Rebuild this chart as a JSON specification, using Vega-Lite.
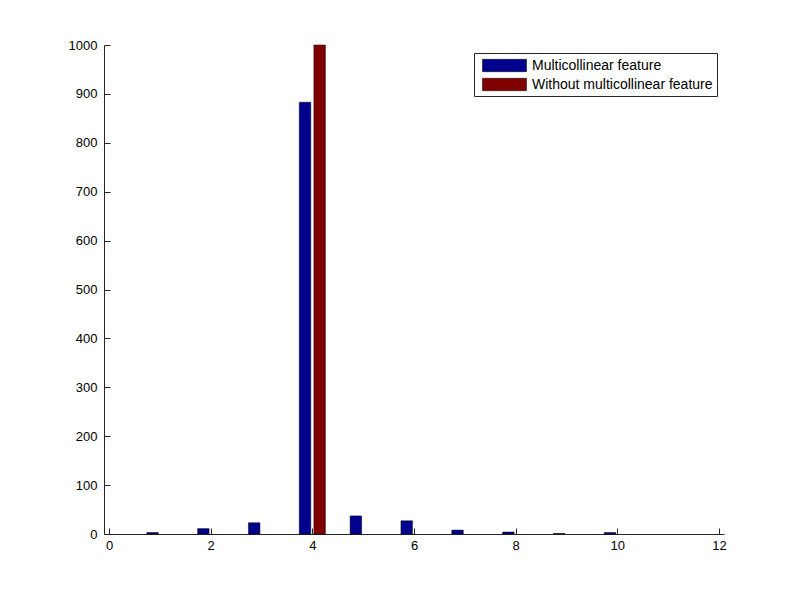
{
  "$schema": "https://vega.github.io/schema/vega-lite/v6.json",
  "width": 620,
  "height": 489,
  "autosize": {"type": "none"},
  "padding": {"left": 104, "top": 45, "right": 76, "bottom": 66},
  "background": "white",
  "config": {
    "view": {"stroke": null},
    "font": "Liberation Sans",
    "axis": {
      "domainColor": "#262626",
      "tickColor": "#262626",
      "tickSize": -6,
      "labelFont": "Liberation Sans",
      "labelFontSize": 13,
      "labelColor": "#000000",
      "grid": false,
      "title": null
    },
    "axisX": {"labelPadding": 11},
    "axisY": {"labelPadding": 13}
  },
  "data": {
    "values": [
      {"bin": 1, "series": "Multicollinear feature", "count": 3},
      {"bin": 2, "series": "Multicollinear feature", "count": 11},
      {"bin": 3, "series": "Multicollinear feature", "count": 23},
      {"bin": 4, "series": "Multicollinear feature", "count": 883},
      {"bin": 5, "series": "Multicollinear feature", "count": 37},
      {"bin": 6, "series": "Multicollinear feature", "count": 27},
      {"bin": 7, "series": "Multicollinear feature", "count": 8},
      {"bin": 8, "series": "Multicollinear feature", "count": 4},
      {"bin": 9, "series": "Multicollinear feature", "count": 1},
      {"bin": 10, "series": "Multicollinear feature", "count": 3},
      {"bin": 1, "series": "Without multicollinear feature", "count": 0},
      {"bin": 2, "series": "Without multicollinear feature", "count": 0},
      {"bin": 3, "series": "Without multicollinear feature", "count": 0},
      {"bin": 4, "series": "Without multicollinear feature", "count": 1000},
      {"bin": 5, "series": "Without multicollinear feature", "count": 0},
      {"bin": 6, "series": "Without multicollinear feature", "count": 0},
      {"bin": 7, "series": "Without multicollinear feature", "count": 0},
      {"bin": 8, "series": "Without multicollinear feature", "count": 0},
      {"bin": 9, "series": "Without multicollinear feature", "count": 0},
      {"bin": 10, "series": "Without multicollinear feature", "count": 0}
    ]
  },
  "encoding": {
    "x": {"field": "bin", "type": "quantitative", "scale": {"domain": [0, 12], "nice": false, "zero": false},
      "axis": {"values": [0, 2, 4, 6, 8, 10, 12], "format": "d", "labelFlush": false, "labelOverlap": false}},
    "y": {"field": "count", "type": "quantitative", "scale": {"domain": [0, 1000], "nice": false},
      "axis": {"values": [0, 100, 200, 300, 400, 500, 600, 700, 800, 900, 1000], "format": "d", "labelFlush": false, "labelOverlap": false}},
    "color": {
      "field": "series", "type": "nominal",
      "scale": {"domain": ["Multicollinear feature", "Without multicollinear feature"], "range": ["#00008f", "#800000"]},
      "legend": {
        "title": null,
        "orient": "none",
        "legendX": 370,
        "legendY": 8,
        "symbolType": "M-1,-0.775H4.5V0.775H-1Z",
        "symbolSize": 256,
        "symbolStrokeColor": "#000000",
        "symbolStrokeWidth": 0.5,
        "symbolOpacity": 1,
        "symbolOffset": 4,
        "labelFont": "Liberation Sans",
        "labelFontSize": 14,
        "labelColor": "#000000",
        "labelLimit": 0,
        "labelOffset": 33,
        "rowPadding": 3,
        "strokeColor": "#262626",
        "fillColor": "#ffffff",
        "padding": 4
      }
    }
  },
  "layer": [
    {
      "transform": [{"filter": "datum.series === 'Multicollinear feature'"}],
      "mark": {"type": "bar", "width": 11.5, "xOffset": -7.3, "stroke": "#000000", "strokeWidth": 0.5}
    },
    {
      "transform": [{"filter": "datum.series === 'Without multicollinear feature' && datum.count > 0"}],
      "mark": {"type": "bar", "width": 11.5, "xOffset": 7.3, "stroke": "#000000", "strokeWidth": 0.5}
    }
  ]
}
